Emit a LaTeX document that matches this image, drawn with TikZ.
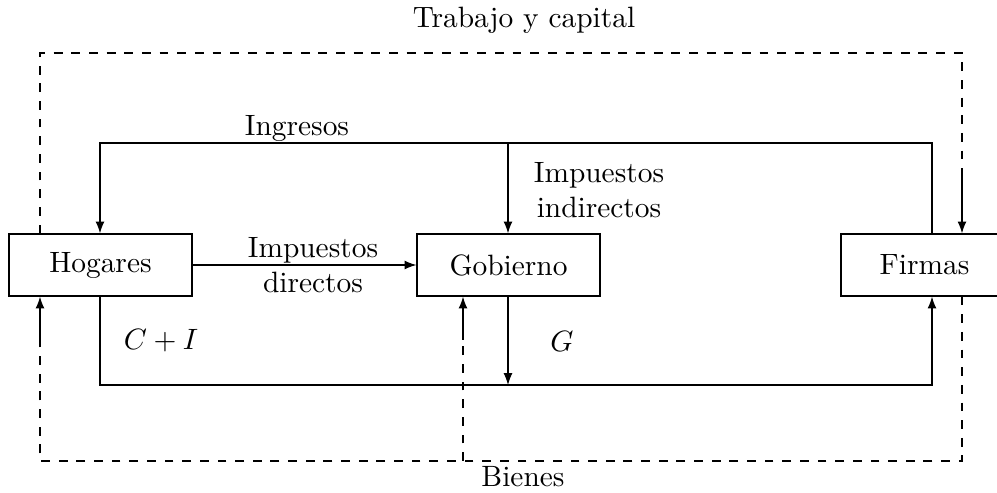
\documentclass[tikz,border=0pt]{standalone}
\usetikzlibrary{arrows.meta,calc}
\begin{document}
\begin{tikzpicture}[x=0.34pt,y=-0.34pt,
  agent/.style={draw,minimum width=62.2pt,minimum height=21.1pt,inner sep=0pt,font=\normalsize},
  flow/.style={-{Latex[length=4pt,width=3pt]}},
  lbl/.style={align=center,inner sep=0pt}]
\useasboundingbox (0,0) rectangle (997,493);
\node[agent] (h) at (100.5,265) {Hogares};
\node[agent] (g) at (508.5,265) {Gobierno};
\node[agent] (f) at (932.5,265) {\hspace*{-5.4pt}Firmas};
% coordinates
\coordinate (tl) at (40,53);
\coordinate (tr) at (962,53);
\coordinate (tf) at (962,173);
\coordinate (bl) at (40,461);
\coordinate (br) at (962,461);
\coordinate (bh) at (40,340);
\coordinate (bg0) at (463,461);
\coordinate (bg) at (463,340);
\coordinate (itop) at (100,143);
\coordinate (ftop) at (932,143);
\coordinate (gtop) at (508,143);
\coordinate (cbl) at (100,385);
\coordinate (cbr) at (932,385);
\coordinate (cg) at (508,385);
% trabajo y capital
\draw[dashed] (h.north -| tl) -- (tl) -- (tr) -- (tf);
\draw[flow] (tf) -- (f.north -| tf);
% bienes
\draw[dashed] (f.south -| br) -- (br) -- (bl) -- (bh);
\draw[flow] (bh) -- (h.south -| bh);
\draw[dashed] (bg0) -- (bg);
\draw[flow] (bg) -- (g.south -| bg);
% ingresos
\draw[flow] (f.north -| ftop) -- (ftop) -- (itop) -- (h.north -| itop);
\draw[flow] (gtop) -- (g.north -| gtop);
% impuestos directos
\draw[flow] (h.east) -- (g.west);
% C+I
\draw[flow] (h.south -| cbl) -- (cbl) -- (cbr) -- (f.south -| cbr);
\draw[flow] (g.south -| cg) -- (cg);
% labels
\node[lbl] (t1) at (524,20) {Trabajo y capital};
\node[lbl] (t2) at (523,477) {Bienes};
\node[lbl] (t3) at (297,128) {Ingresos};
\node[lbl] (t4) at (599,190) {Impuestos\\indirectos};
\node[lbl] (t5) at (313,265) {Impuestos\\directos};
\node[lbl] (t6) at (161,341) {$C+I$};
\node[lbl] (t7) at (562,341) {$G$};
\end{tikzpicture}
\end{document}
